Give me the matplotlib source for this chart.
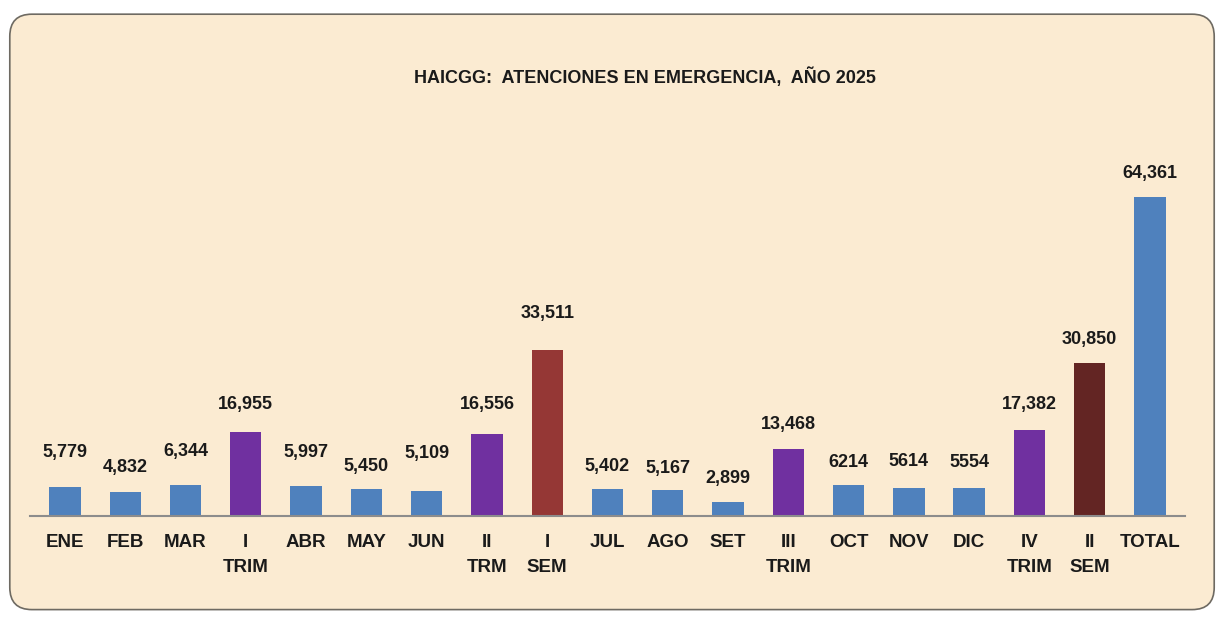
import matplotlib.pyplot as plt
from matplotlib.patches import FancyBboxPatch

categories = ['ENE', 'FEB', 'MAR', 'I\nTRIM', 'ABR', 'MAY', 'JUN', 'II\nTRM', 'I\nSEM',
              'JUL', 'AGO', 'SET', 'III\nTRIM', 'OCT', 'NOV', 'DIC', 'IV\nTRIM', 'II\nSEM', 'TOTAL']
values = [5779, 4832, 6344, 16955, 5997, 5450, 5109, 16556, 33511,
          5402, 5167, 2899, 13468, 6214, 5614, 5554, 17382, 30850, 64361]
value_labels = ['5,779', '4,832', '6,344', '16,955', '5,997', '5,450', '5,109', '16,556', '33,511',
                '5,402', '5,167', '2,899', '13,468', '6214', '5614', '5554', '17,382', '30,850', '64,361']
kinds = ['m', 'm', 'm', 't', 'm', 'm', 'm', 't', 's1',
         'm', 'm', 'm', 't', 'm', 'm', 'm', 't', 's2', 'm']

colors = {'m': '#4F81BD', 't': '#7030A0', 's1': '#953735', 's2': '#632523'}
# distance from bar top to label centre, in points
lift = [25, 18, 24, 20, 24.5, 16, 27, 21.5, 26, 16, 16, 16.5, 18, 16, 19, 19, 18, 17, 17]

plt.rcParams['font.family'] = ['Liberation Sans Narrow', 'Liberation Sans', 'DejaVu Sans']

fig = plt.figure(figsize=(12.24, 6.17), dpi=100)
fig.patch.set_facecolor('white')
bg = FancyBboxPatch((0.008, 0.012), 0.984, 0.965, boxstyle='round,pad=0,rounding_size=0.018',
                    transform=fig.transFigure, facecolor='#FBEBD2', edgecolor='#6e6a62',
                    linewidth=1.2, mutation_aspect=2.0, zorder=-5)
fig.patches.append(bg)

ax = fig.add_axes([0.0245, 0.1637, 0.9436, 0.643])
ax.set_facecolor('none')
x = list(range(len(values)))
ax.bar(x, values, width=0.52, color=[colors[k] for k in kinds], zorder=2)

for xi, v, lab, lf in zip(x, values, value_labels, lift):
    ax.annotate(lab, (xi, v), xytext=(0, lf), textcoords='offset points',
                ha='center', va='center', fontsize=13, fontweight='bold', color='#1a1a1a')

ax.set_xlim(-0.58, 18.58)
ax.set_ylim(0, 80000)
ax.set_xticks(x)
ax.set_xticklabels(categories, fontsize=13.5, fontweight='bold', color='#1a1a1a',
                   linespacing=1.6, va='top')
ax.tick_params(axis='x', length=0, pad=13)
ax.set_yticks([])
for s in ['top', 'left', 'right']:
    ax.spines[s].set_visible(False)
ax.spines['bottom'].set_color('#8c8c8c')
ax.spines['bottom'].set_linewidth(1.5)

fig.text(0.527, 0.875, 'HAICGG:  ATENCIONES EN EMERGENCIA,  AÑO 2025', ha='center', va='center',
         fontsize=13, fontweight='bold', color='#1a1a1a')

fig.savefig('out.png', dpi=100)
